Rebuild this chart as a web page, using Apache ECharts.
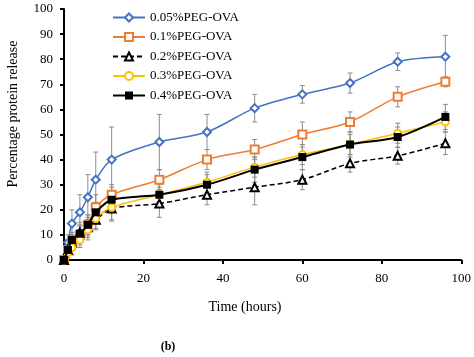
<!DOCTYPE html>
<html>
<head>
<meta charset="utf-8">
<script src="https://cdn.jsdelivr.net/npm/echarts@6/dist/echarts.min.js"></script>
<style>html,body{margin:0;padding:0;background:#fff}#c{width:474px;height:357px}</style>
</head>
<body>
<div id="c"></div>
<script>
var time = [0, 1, 2, 4, 6, 8, 12, 24, 36, 48, 60, 72, 84, 96];
var seriesNames = ['0.05%PEG-OVA', '0.1%PEG-OVA', '0.2%PEG-OVA', '0.3%PEG-OVA', '0.4%PEG-OVA'];
var peg005 = [0, 7, 14.5, 19, 25, 32, 40, 47, 51, 60.5, 66, 70.5, 79, 81];
var peg005Err = [0, 3, 5.5, 7, 9, 11, 13, 11, 7, 5.5, 3.5, 4, 3.5, 8.5];
var peg01 = [0, 4, 7, 10, 14, 21, 26, 32, 40, 44, 50, 55, 65, 71];
var peg01Err = [0, 2, 3, 4, 4, 5, 4, 4, 4, 4, 5, 4, 4, 2];
var peg02 = [0, 4, 7, 11, 13, 16, 20.5, 22.5, 26, 29, 32, 38.5, 41.5, 46.5];
var peg02Err = [0, 2, 3, 4, 4, 4, 5, 5.5, 4, 7, 4, 3.5, 3.3, 4.5];
var peg03 = [0, 3, 5, 8, 12, 16.5, 21, 26, 31, 37, 42, 46, 50.5, 55];
var peg03Err = [0, 2, 3, 3, 4, 4, 5, 4, 4, 4, 4, 4, 4, 4];
var peg04 = [0, 4, 8, 10.5, 14, 19, 24, 26, 30, 36, 41, 46, 49, 57];
var peg04Err = [0, 2, 3, 3, 4, 4, 5, 3, 4, 5, 5, 5, 4, 5];
var xTicks = [0, 20, 40, 60, 80, 100];
var yTicks = [0, 10, 20, 30, 40, 50, 60, 70, 80, 90, 100];

var FONT = '"Liberation Serif", "DejaVu Serif", serif';

function pts(vals) { return time.map(function (t, i) { return [t, vals[i]]; }); }
function errs(vals, e) { return time.map(function (t, i) { return [t, vals[i] - e[i], vals[i] + e[i]]; }); }

function errRender(params, api) {
  var x = api.value(0), lo = api.value(1), hi = api.value(2);
  if (hi - lo <= 0) return null;
  var p1 = api.coord([x, hi]), p2 = api.coord([x, lo]);
  var w = 2.5;
  var st = { stroke: '#8c8c8c', lineWidth: 1 };
  return { type: 'group', children: [
    { type: 'line', shape: { x1: p1[0], y1: p1[1], x2: p2[0], y2: p2[1] }, style: st },
    { type: 'line', shape: { x1: p1[0] - w, y1: p1[1], x2: p1[0] + w, y2: p1[1] }, style: st },
    { type: 'line', shape: { x1: p2[0] - w, y1: p2[1], x2: p2[0] + w, y2: p2[1] }, style: st }
  ] };
}
function errSeries(vals, e) {
  return { type: 'custom', renderItem: errRender, data: errs(vals, e), encode: { x: 0, y: [1, 2] }, z: 1, silent: true, legendHoverLink: false };
}

var chart = echarts.init(document.getElementById('c'));
chart.setOption({
  animation: false,
  backgroundColor: '#fff',
  grid: { left: 64, right: 12, top: 9, bottom: 97 },
  legend: {
    orient: 'vertical', left: 112, top: 11, padding: 0, itemWidth: 32, itemHeight: 10, itemGap: 6.5,
    data: seriesNames,
    textStyle: { fontFamily: FONT, fontSize: 13, color: '#000' }
  },
  xAxis: {
    type: 'value', min: 0, max: 100, interval: 20,
    axisLine: { lineStyle: { color: '#000', width: 2 } },
    axisTick: { length: 4, lineStyle: { color: '#000', width: 2 } },
    axisLabel: { margin: 12, fontFamily: FONT, fontSize: 13, color: '#000',
      formatter: function (v) { return xTicks.indexOf(v) >= 0 ? String(v) : ''; } },
    splitLine: { show: false }
  },
  yAxis: {
    type: 'value', min: 0, max: 100, interval: 10,
    axisLine: { show: true, lineStyle: { color: '#000', width: 2 } },
    axisTick: { show: true, length: 4, lineStyle: { color: '#000', width: 2 } },
    axisLabel: { margin: 11, fontFamily: FONT, fontSize: 13, color: '#000',
      formatter: function (v) { return yTicks.indexOf(v) >= 0 ? String(v) : ''; } },
    splitLine: { show: false }
  },
  graphic: [
    { type: 'text', x: 13, y: 114, rotation: Math.PI / 2,
      style: { text: 'Percentage protein release', font: '14px ' + FONT, fill: '#000', align: 'center', verticalAlign: 'middle' } },
    { type: 'text', x: 245, y: 307,
      style: { text: 'Time (hours)', font: '14px ' + FONT, fill: '#000', align: 'center', verticalAlign: 'middle' } },
    { type: 'text', x: 168, y: 347,
      style: { text: '(b)', font: 'bold 12px ' + FONT, fill: '#000', align: 'center', verticalAlign: 'middle' } }
  ],
  series: [
    errSeries(peg005, peg005Err),
    errSeries(peg01, peg01Err),
    errSeries(peg02, peg02Err),
    errSeries(peg03, peg03Err),
    errSeries(peg04, peg04Err),
    { name: seriesNames[0], type: 'line', data: pts(peg005), smooth: 0.3, z: 3,
      symbol: 'emptyDiamond', symbolSize: 8,
      lineStyle: { color: '#4472C4', width: 1.5 }, itemStyle: { color: '#4472C4', borderWidth: 1 } },
    { name: seriesNames[1], type: 'line', data: pts(peg01), smooth: 0.3, z: 3,
      symbol: 'emptyRect', symbolSize: 8,
      lineStyle: { color: '#ED7D31', width: 1.5 }, itemStyle: { color: '#ED7D31', borderWidth: 1 } },
    { name: seriesNames[2], type: 'line', data: pts(peg02), smooth: 0.3, z: 3,
      symbol: 'emptyTriangle', symbolSize: 8,
      lineStyle: { color: '#000', width: 1.5, type: [5, 3] }, itemStyle: { color: '#000', borderWidth: 1.5 } },
    { name: seriesNames[3], type: 'line', data: pts(peg03), smooth: 0.3, z: 3,
      symbol: 'emptyCircle', symbolSize: 7,
      lineStyle: { color: '#FFC000', width: 1.5 }, itemStyle: { color: '#FFC000', borderWidth: 1 } },
    { name: seriesNames[4], type: 'line', data: pts(peg04), smooth: 0.3, z: 4,
      symbol: 'rect', symbolSize: 8,
      lineStyle: { color: '#000', width: 2 }, itemStyle: { color: '#000' } }
  ]
});
</script>
</body>
</html>
